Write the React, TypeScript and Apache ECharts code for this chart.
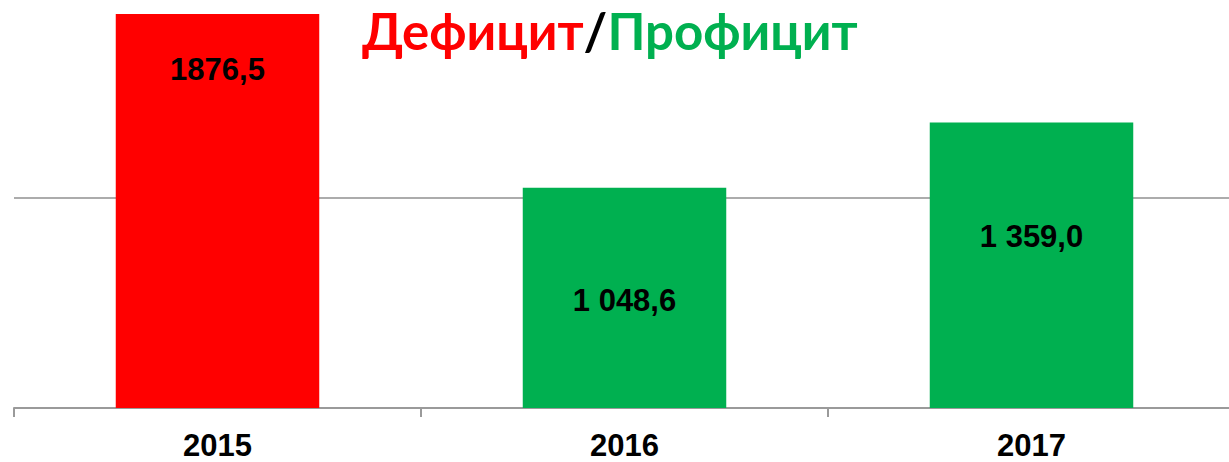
import React, { useEffect, useRef } from "react";
import * as echarts from "echarts";

const categories = ["2015", "2016", "2017"];
const values = [1876.5, 1048.6, 1359.0];
const valueLabels = ["1876,5", "1 048,6", "1 359,0"];
const barColors = ["#FF0000", "#00B050", "#00B050"];
// vertical placement of the value label inside each bar (share of bar height from its top)
const labelPlacement = ["14%", "51%", "40%"];

export default function App() {
  const ref = useRef<HTMLDivElement>(null);
  useEffect(() => {
    if (!ref.current) return;
    const chart = echarts.init(ref.current, null, { renderer: "svg" });
    const font = "'Liberation Sans', Arial, sans-serif";
    const titleFont = "bold 51px Lato, 'Open Sans', sans-serif";
    chart.setOption({
      animation: false,
      grid: { left: 14, right: -6, top: -12, bottom: 54, containLabel: false, outerBoundsMode: "none" },
      xAxis: {
        type: "category",
        data: categories,
        axisLine: { show: true, lineStyle: { color: "#9a9a9a", width: 2 } },
        axisTick: { show: true, length: 9, alignWithLabel: false, lineStyle: { color: "#9a9a9a", width: 2 } },
        axisLabel: { color: "#000", fontSize: 31, fontWeight: "bold", fontFamily: font, margin: 22 },
      },
      yAxis: {
        type: "value",
        min: 0,
        max: 2000,
        interval: 1000,
        axisLabel: { show: false },
        axisLine: { show: false },
        axisTick: { show: false },
        splitLine: { show: true, lineStyle: { color: "#909090", width: 1.5 } },
      },
      graphic: [
        {
          type: "text",
          left: 362,
          top: 5,
          style: {
            text: "{r|Дефицит}{k|/}{g|Профицит}",
            font: titleFont,
            rich: {
              r: { fill: "#FF0000", font: titleFont },
              k: { fill: "#000000", font: titleFont },
              g: { fill: "#00B050", font: titleFont },
            },
          },
        },
      ],
      series: [
        {
          type: "bar",
          barWidth: "50%",
          data: values.map((v, i) => ({
            value: v,
            itemStyle: { color: barColors[i] },
            label: {
              show: true,
              position: ["50%", labelPlacement[i]],
              align: "center",
              verticalAlign: "middle",
              formatter: () => valueLabels[i],
              color: "#000",
              fontSize: 31,
              fontWeight: "bold",
              fontFamily: font,
            },
          })),
        },
      ],
    });
    return () => chart.dispose();
  }, []);
  return (
    <div
      ref={ref}
      style={{ position: "fixed", left: 0, top: 0, width: 1229, height: 462, background: "#fff" }}
    />
  );
}
